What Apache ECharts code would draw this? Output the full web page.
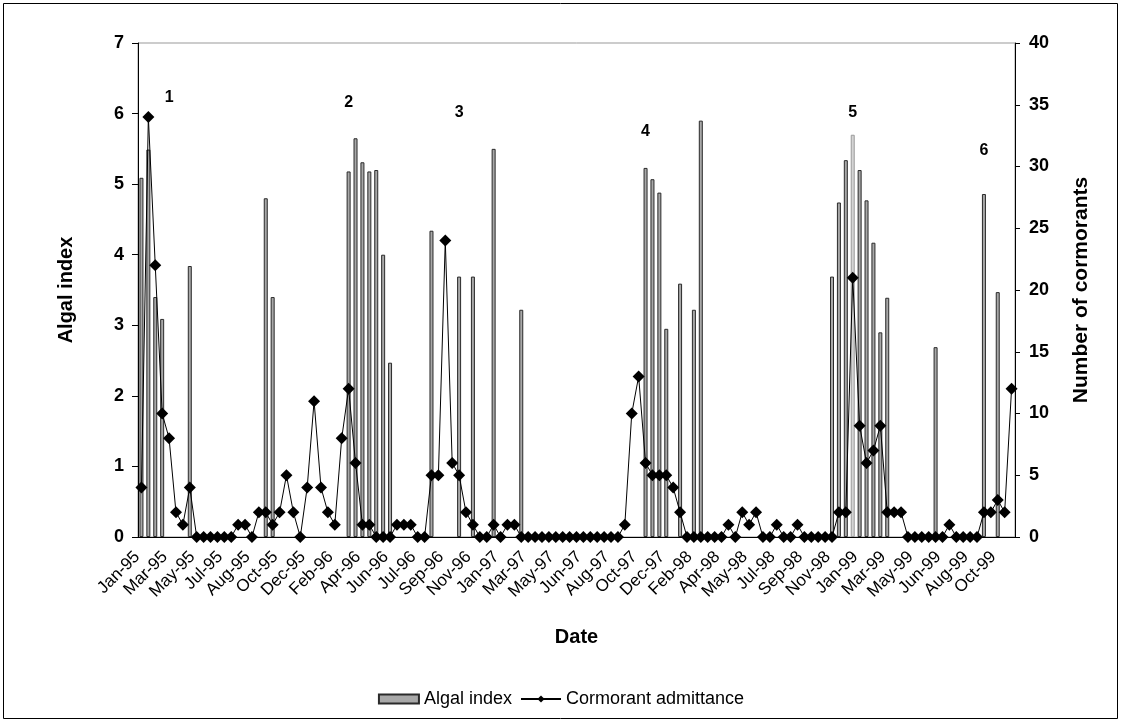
<!DOCTYPE html>
<html>
<head>
<meta charset="utf-8">
<script src="https://cdn.jsdelivr.net/npm/echarts@6/dist/echarts.min.js"></script>
<style>
  html, body { margin: 0; padding: 0; background: #fff; }
  #main { width: 1122px; height: 723px; }
</style>
</head>
<body>
<div id="main"></div>
<script>
// every 4th sampling date gets a label
var tickLabels = ['Jan-95', 'Mar-95', 'May-95', 'Jul-95', 'Aug-95', 'Oct-95', 'Dec-95', 'Feb-96',
  'Apr-96', 'Jun-96', 'Jul-96', 'Sep-96', 'Nov-96', 'Jan-97', 'Mar-97', 'May-97',
  'Jun-97', 'Aug-97', 'Oct-97', 'Dec-97', 'Feb-98', 'Apr-98', 'May-98', 'Jul-98',
  'Sep-98', 'Nov-98', 'Jan-99', 'Mar-99', 'May-99', 'Jun-99', 'Aug-99', 'Oct-99'];

// algal index per sample (null = not measured)
var algalIndex = [
  5.09, 5.49, 3.40, 3.09, null, null, null, 3.84, null, null,
  null, null, null, null, null, null, null, null, 4.80, 3.40,
  null, null, null, null, null, null, null, null, null, null,
  5.18, 5.65, 5.31, 5.18, 5.20, 4.00, 2.47, null, null, null,
  null, null, 4.34, null, null, null, 3.69, null, 3.69, null,
  null, 5.50, null, null, null, 3.22, null, null, null, null,
  null, null, null, null, null, null, null, null, null, null,
  null, null, null, 5.23, 5.07, 4.88, 2.95, null, 3.59, null,
  3.22, 5.90, null, null, null, null, null, null, null, null,
  null, null, null, null, null, null, null, null, null, null,
  3.69, 4.74, 5.34, 5.70, 5.20, 4.77, 4.17, 2.90, 3.39, null,
  null, null, null, null, null, 2.69, null, null, null, null,
  null, null, 4.86, null, 3.47, null, null
];

// number of cormorants per sample
var cormorants = [
  4, 34, 22, 10, 8, 2, 1, 4, 0, 0,
  0, 0, 0, 0, 1, 1, 0, 2, 2, 1,
  2, 5, 2, 0, 4, 11, 4, 2, 1, 8,
  12, 6, 1, 1, 0, 0, 0, 1, 1, 1,
  0, 0, 5, 5, 24, 6, 5, 2, 1, 0,
  0, 1, 0, 1, 1, 0, 0, 0, 0, 0,
  0, 0, 0, 0, 0, 0, 0, 0, 0, 0,
  1, 10, 13, 6, 5, 5, 5, 4, 2, 0,
  0, 0, 0, 0, 0, 1, 0, 2, 1, 2,
  0, 0, 1, 0, 0, 1, 0, 0, 0, 0,
  0, 2, 2, 21, 9, 6, 7, 9, 2, 2,
  2, 0, 0, 0, 0, 0, 0, 1, 0, 0,
  0, 0, 2, 2, 3, 2, 12
];

// numbered events: sample index and algal-index height
var eventNames = ['1', '2', '3', '4', '5', '6'];
var eventSample = [4, 30, 46, 73, 103, 122];
var eventLevel = [6.22, 6.15, 6.02, 5.74, 6.01, 5.47];

// the one bar printed lighter in the original
var paleBar = 103;

var samples = [];
for (var i = 0; i < cormorants.length; i++) {
  samples.push(String(i + 1));
}

var barData = algalIndex.map(function (v, idx) {
  if (idx === paleBar) {
    return { value: v, itemStyle: { color: '#d4d4d4', borderColor: '#9a9a9a' } };
  }
  return v;
});

var events = [];
for (var k = 0; k < eventNames.length; k++) {
  events.push({ name: eventNames[k], coord: [eventSample[k], eventLevel[k]] });
}

var font = 'Liberation Sans, Arial, sans-serif';
var chart = echarts.init(document.getElementById('main'));

chart.setOption({
  backgroundColor: '#ffffff',
  animation: false,
  textStyle: { fontFamily: font, color: '#000' },
  graphic: [{
    type: 'rect',
    shape: { x: 3.5, y: 3.5, width: 1114, height: 715 },
    style: { fill: 'none', stroke: '#000', lineWidth: 1 }
  }],
  grid: {
    left: 138, right: 107, top: 43, bottom: 186,
    show: true, borderColor: '#999', borderWidth: 1
  },
  legend: {
    top: 685,
    left: 'center',
    itemWidth: 40,
    itemHeight: 9,
    itemGap: 8,
    textStyle: { fontFamily: font, fontSize: 18, color: '#000' },
    data: [
      { name: 'Algal index', icon: 'rect' },
      { name: 'Cormorant admittance' }
    ]
  },
  xAxis: {
    type: 'category',
    data: samples,
    boundaryGap: true,
    name: 'Date',
    nameLocation: 'middle',
    nameGap: 90,
    nameTextStyle: { fontFamily: font, fontSize: 20, fontWeight: 'bold', color: '#000' },
    axisLine: { lineStyle: { color: '#000', width: 1 } },
    axisTick: { interval: 3, length: 5, lineStyle: { color: '#000' } },
    axisLabel: {
      interval: 3,
      rotate: 45,
      margin: 13,
      padding: [0, 6, 0, 0],
      fontSize: 17,
      color: '#000',
      fontFamily: font,
      formatter: function (v, idx) { return tickLabels[Math.floor(idx / 4)]; }
    },
    splitLine: { show: false }
  },
  yAxis: [{
    type: 'value',
    min: 0, max: 7, interval: 1,
    name: 'Algal index',
    nameLocation: 'middle',
    nameRotate: 90,
    nameGap: 62,
    nameTextStyle: { fontFamily: font, fontSize: 20, fontWeight: 'bold', color: '#000' },
    axisLine: { show: true, lineStyle: { color: '#000' } },
    axisTick: { show: true, length: 6, lineStyle: { color: '#000' } },
    axisLabel: { fontSize: 18, fontWeight: 'bold', color: '#000', margin: 14, fontFamily: font },
    splitLine: { show: false }
  }, {
    type: 'value',
    min: 0, max: 40, interval: 5,
    position: 'right',
    name: 'Number of cormorants',
    nameLocation: 'middle',
    nameRotate: 90,
    nameGap: 56,
    nameTextStyle: { fontFamily: font, fontSize: 21, fontWeight: 'bold', color: '#000' },
    axisLine: { show: true, lineStyle: { color: '#000' } },
    axisTick: { show: true, length: 5, lineStyle: { color: '#000' } },
    axisLabel: { fontSize: 18, fontWeight: 'bold', color: '#000', margin: 14, fontFamily: font },
    splitLine: { show: false }
  }],
  series: [{
    name: 'Algal index',
    type: 'bar',
    yAxisIndex: 0,
    data: barData,
    barWidth: 4,
    itemStyle: {
      color: '#a8a8a8',
      borderColor: '#2a2a2a',
      borderWidth: 1
    },
    markPoint: {
      symbol: 'circle',
      symbolSize: 1,
      itemStyle: { color: 'rgba(0,0,0,0)' },
      label: {
        show: true,
        position: 'inside',
        formatter: '{b}',
        fontFamily: font,
        fontSize: 16,
        fontWeight: 'bold',
        color: '#000'
      },
      data: events
    }
  }, {
    name: 'Cormorant admittance',
    type: 'line',
    yAxisIndex: 1,
    data: cormorants,
    symbol: 'diamond',
    symbolSize: 12,
    showAllSymbol: true,
    itemStyle: { color: '#000' },
    lineStyle: { color: '#000', width: 1 },
    z: 3
  }]
});
</script>
</body>
</html>
